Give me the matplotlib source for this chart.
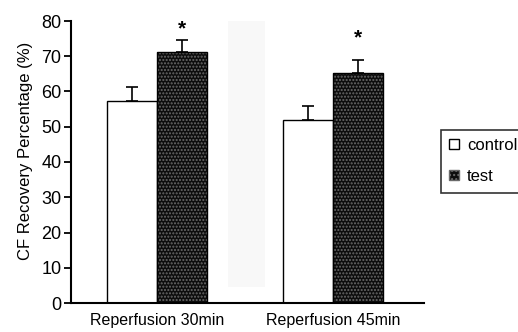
import numpy as np
import matplotlib.pyplot as plt
from matplotlib.patches import Patch

plt.rcParams['font.family'] = ['Liberation Sans', 'DejaVu Sans']

# data
groups = ['Reperfusion 30min', 'Reperfusion 45min']
control = [57.2, 51.8]
control_err = [4.2, 4.2]
test = [71.2, 65.2]
test_err = [3.4, 3.8]
star_y = [75.0, 72.5]   # where the significance stars sit

fig = plt.figure(figsize=(5.18, 3.32), dpi=100)
ax = fig.add_axes([71/518, 1-303/332, (424-71)/518, (303-21)/332])

x = np.arange(len(groups))
w = 0.285

# faint grey band between groups (scan artefact in the original)
ax.axvspan(0.403, 0.614, ymin=0.056, ymax=1.0, color='#f8f8f8', zorder=0, lw=0)

ax.bar(x - w/2, control, w, color='white', edgecolor='black', linewidth=1.0, zorder=2)
ax.errorbar(x - w/2, control, yerr=[np.zeros(2), control_err], fmt='none',
            ecolor='black', elinewidth=1.2, capsize=4, capthick=1.2, zorder=1)

ax.bar(x + w/2, test, w, color='#0d0d0d', edgecolor='#6a6a6a', hatch='.....', linewidth=0, zorder=2)
ax.bar(x + w/2, test, w, fill=False, edgecolor='black', linewidth=1.0, zorder=3)
ax.errorbar(x + w/2, test, yerr=[np.zeros(2), test_err], fmt='none',
            ecolor='black', elinewidth=1.2, capsize=4, capthick=1.2, zorder=1)

for xi, sy in zip(x, star_y):
    ax.text(xi + w/2, sy, '*', ha='center', va='bottom', fontsize=15, fontweight='bold')

ax.set_xlim(-0.489, 1.517)
ax.set_ylim(0, 80)
ax.set_yticks(range(0, 81, 10))
ax.set_xticks(x)
ax.set_xticklabels(groups, fontsize=11.5)
ax.tick_params(axis='x', length=0, pad=7)
ax.tick_params(axis='y', labelsize=13, width=1.3, length=5, pad=2)
ax.set_ylabel('CF Recovery Percentage (%)', fontsize=12)
ax.yaxis.set_label_coords(-0.108, 0.539)

for s in ['top', 'right']:
    ax.spines[s].set_visible(False)
for s in ['left', 'bottom']:
    ax.spines[s].set_linewidth(1.5)

handles = [Patch(facecolor='white', edgecolor='black', label='control'),
           Patch(facecolor='#0d0d0d', edgecolor='#6a6a6a', hatch='....', label='test')]
leg = fig.legend(handles=handles, loc='upper left', bbox_to_anchor=(441/518, 1-130/332),
                 fontsize=12, frameon=True, fancybox=False, edgecolor='black',
                 handlelength=0.55, handleheight=0.55, handletextpad=0.5, borderpad=0.5,
                 labelspacing=0.95, borderaxespad=0)
leg.get_frame().set_linewidth(1.2)

fig.savefig('out.png', dpi=100)
